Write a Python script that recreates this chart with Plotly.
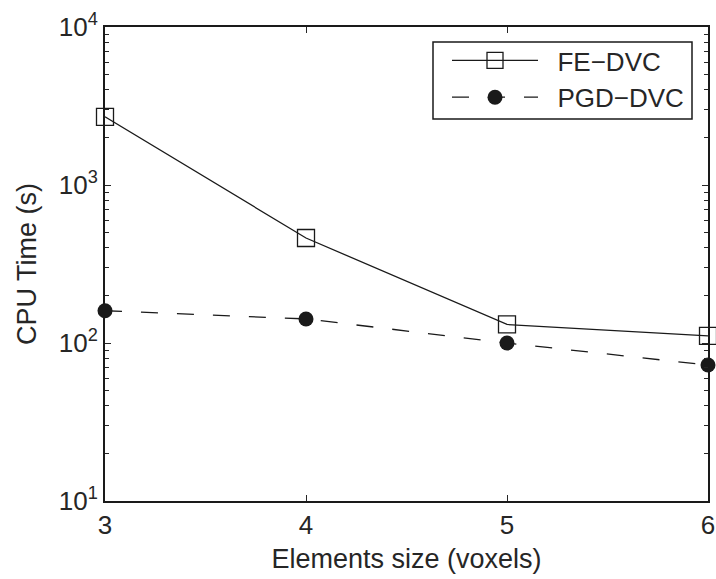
import plotly.graph_objects as go

element_size = [3, 4, 5, 6]
fe_dvc = [2700, 462, 131, 111]
pgd_dvc = [160, 142, 100, 72.5]
series_names = ["FE\u2212DVC", "PGD\u2212DVC"]
y_tick_vals = [10, 100, 1000, 10000]
y_tick_text = ["10<sup>1</sup>", "10<sup>2</sup>", "10<sup>3</sup>", "10<sup>4</sup>"]
x_tick_vals = [3, 4, 5, 6]

ink = "#262626"
fam = "Liberation Sans, Arial, sans-serif"

W, H = 716, 579
ML, MR, MT, MB = 105, 8, 27, 78
PW, PH = W - ML - MR, H - MT - MB


def px_x(p):
    return (p - ML) / PW


def px_y(p):
    return 1 - (p - MT) / PH


pad = "\u00a0\u00a0"
minor_vals = [m * 10 ** e for e in range(1, 4) for m in range(2, 10)]

fig = go.Figure()
fig.add_trace(go.Scatter(
    x=element_size, y=fe_dvc, name=pad + series_names[0], mode="lines+markers",
    line=dict(color="#1a1a1a", width=1.3),
    marker=dict(symbol="square-open", size=17, color="#1a1a1a", line=dict(width=1.3)),
    cliponaxis=False,
))
fig.add_trace(go.Scatter(
    x=element_size, y=pgd_dvc, name=pad + series_names[1], mode="lines+markers",
    line=dict(color="#1a1a1a", width=1.3, dash="17px,19px"),
    marker=dict(symbol="circle", size=15, color="#1a1a1a"),
    cliponaxis=False,
))

# legend frame
fig.add_shape(type="rect", xref="paper", yref="paper",
              x0=px_x(433), x1=px_x(692), y0=px_y(119), y1=px_y(42),
              line=dict(color="#1a1a1a", width=1.5), fillcolor="white",
              layer="above")

fig.update_layout(
    width=W, height=H,
    margin=dict(l=ML, r=MR, t=MT, b=MB, autoexpand=False),
    paper_bgcolor="white", plot_bgcolor="white",
    font=dict(family=fam, size=26, color=ink),
    showlegend=True,
    legend=dict(
        x=px_x(447), y=px_y(37), xanchor="left", yanchor="top",
        bgcolor="rgba(0,0,0,0)", borderwidth=0,
        font=dict(family=fam, size=26, color=ink),
        itemwidth=86, tracegroupgap=0,
    ),
    xaxis=dict(
        range=[3, 6], tickvals=x_tick_vals, ticks="inside", ticklen=6,
        tickwidth=1.2, tickcolor=ink, automargin=False,
        showline=True, linecolor="#1a1a1a", linewidth=2, mirror="ticks",
        showgrid=False, zeroline=False,
        title=dict(text="Elements size (voxels)", standoff=10,
                   font=dict(size=27)),
        tickfont=dict(size=26),
    ),
    yaxis=dict(
        type="log", range=[1, 4], tickvals=y_tick_vals, ticktext=y_tick_text,
        ticks="inside", ticklen=6, tickwidth=1.2, tickcolor=ink, automargin=False,
        minor=dict(tickvals=minor_vals, ticks="inside", ticklen=4,
                   tickwidth=1, tickcolor=ink, showgrid=False),
        showline=True, linecolor="#1a1a1a", linewidth=2, mirror="ticks",
        showgrid=False, zeroline=False,
        title=dict(text="CPU Time (s)", standoff=14, font=dict(size=27)),
        tickfont=dict(size=26),
    ),
)

fig.write_html("out.html", post_script="document.body.style.margin='0';",
               config={"displayModeBar": False})
